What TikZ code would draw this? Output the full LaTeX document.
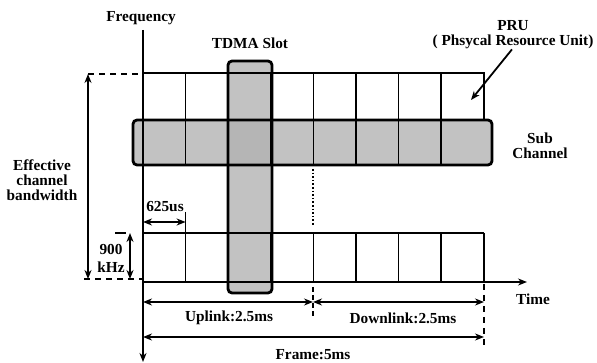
\documentclass[tikz,border=0pt]{standalone}
\usepackage{fontspec}
\setmainfont{Liberation Serif}
\usetikzlibrary{positioning,arrows.meta}

\begin{document}
\begin{tikzpicture}[x=1pt, y=-1pt,
  lbl/.style={font=\bfseries\fontsize{15.3}{15}\selectfont, align=center, inner sep=0pt},
  band/.style={line width=2.8pt, rounded corners=4pt},
  cell/.style={line width=1.6pt},
  dim/.style={<->, line width=1.5pt},
  guide/.style={line width=1.5pt, dash pattern=on 6pt off 5pt},
  >={Stealth[length=9pt,width=7pt]}]
\useasboundingbox (0,0) rectangle (597,363);

% shaded slot and sub channel
\fill[gray!48, rounded corners=4pt] (133,120) rectangle (492,165);
\fill[gray!48, rounded corners=4pt] (228,61) rectangle (272,293);
\fill[gray!58] (228,120) rectangle (272,165);

% PRU grid
\draw[cell] (143,73) -- (484,73) -- (484,120);
\draw[cell] (143,165) -- (484,165);
\draw[cell] (143,233) -- (484,233);
\foreach \i in {1,...,7}
  \draw[cell] ({143+42.6*\i},73) -- ({143+42.6*\i},165);
\foreach \i in {2,...,8}
  \draw[cell] ({143+42.6*\i},233) -- ({143+42.6*\i},282);
\draw[cell] (185.6,212) -- (185.6,282);
\draw[cell, dotted, line width=1.8pt] (313,169) -- (313,226);

\draw[band] (133,120) rectangle (492,165);
\draw[band] (228,61) rectangle (272,293);

% axes
\coordinate (ftop) at (143,30);
\coordinate (fbot) at (143,362);
\coordinate (orig) at (143,282);
\coordinate (tend) at (527,282);
\draw[->, line width=1.6pt] (ftop) -- (fbot);
\draw[->, line width=1.6pt] (orig) -- (tend);

% labels
\node[lbl] (freq) at (141,18) {Frequency};
\node[lbl] (tdma) at (250,43) {TDMA Slot};
\node[lbl] (pru) at (513,35) {PRU\\( Phsycal Resource Unit)};
\node[lbl] (sub) at (540,146) {Sub\\Channel};
\node[lbl] (ecb) at (42,180) {Effective\\channel\\bandwidth};
\node[lbl, font=\bfseries\fontsize{15.3}{18}\selectfont] (khz) at (111,258) {900\\kHz};
\node[lbl] (slot) at (165,207) {625us};
\node[lbl] (ul) at (229,318) {Uplink:2.5ms};
\node[lbl] (dl) at (403,318) {Downlink:2.5ms};
\node[lbl] (frame) at (313,355) {Frame:5ms};
\node[lbl] (time) at (533,299) {Time};

% PRU pointer
\coordinate (cellin) at (471,100);
\draw[->, line width=1.8pt] ([xshift=-1pt]pru.south) -- (cellin);

% effective channel bandwidth
\coordinate (ebtop) at (88,74);
\coordinate (ebbot) at (88,279);
\draw[guide] (ebtop) -- (143,74);
\draw[guide] (84,279) -- (143,279);
\draw[dim] (ebtop) -- (ebbot);

% 900 kHz
\coordinate (ktop) at (130,233);
\coordinate (kbot) at (130,279);
\draw[line width=1.5pt] (115,233) -- (126,233);
\draw[dim] (ktop) -- (kbot);

% 625 us
\coordinate (s0) at (143,222);
\coordinate (s1) at (185.6,222);
\draw[dim] (s0) -- (s1);

% uplink / downlink / frame
\coordinate (u0) at (143,302);
\coordinate (u1) at (313,302);
\coordinate (d1) at (484,302);
\coordinate (f0) at (143,337);
\coordinate (f1) at (484,337);
\draw[guide, dash pattern=on 5pt off 3pt] (313,287) -- (313,316);
\draw[guide] (484,284) -- (484,346);
\draw[dim] (u0) -- (u1);
\draw[dim] (u1) -- (d1);
\draw[dim] (f0) -- (f1);
\end{tikzpicture}
\end{document}
